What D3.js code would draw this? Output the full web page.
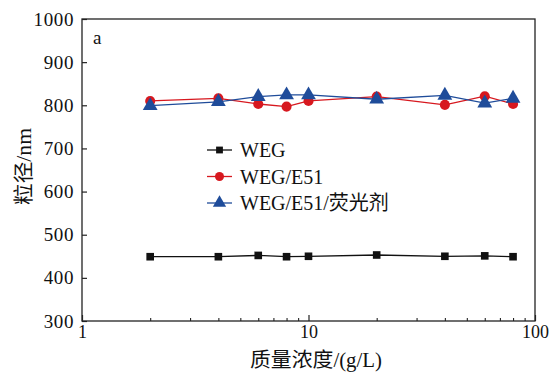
<!DOCTYPE html>
<html>
<head>
<meta charset="utf-8">
<script src="https://cdn.jsdelivr.net/npm/d3@7/dist/d3.min.js"></script>
<style>
  html, body { margin: 0; padding: 0; background: #fff; }
  svg text { font-family: "Liberation Serif", "Times New Roman", "Noto Sans CJK SC", serif; fill: #111; }
</style>
</head>
<body>
<svg id="chart" width="555" height="374"></svg>
<script>
// Mass concentration (g/L) and particle size (nm) for each formulation
const concentrations = [2, 4, 6, 8, 10, 20, 40, 60, 80];
const wegValues      = [449, 449, 452, 449, 450, 453, 450, 451, 449];
const wegE51Values   = [810, 816, 803, 797, 810, 820, 801, 821, 803];
const wegE51FlValues = [799, 808, 820, 824, 824, 814, 823, 805, 816];
const seriesNames    = ["WEG", "WEG/E51", "WEG/E51/荧光剂"];
const yTicks         = [300, 400, 500, 600, 700, 800, 900, 1000];
const xTicks         = [1, 10, 100];

const svg = d3.select("#chart");
const margin = { left: 82, right: 20, top: 19, bottom: 53 };
const W = 555, H = 374;
const x = d3.scaleLog().domain([1, 100]).range([margin.left, W - margin.right]);
const y = d3.scaleLinear().domain([300, 1000]).range([H - margin.bottom, margin.top]);

const colors = ["#111111", "#d7181f", "#1f4c9a"];
const shapes = [d3.symbolSquare, d3.symbolCircle, d3.symbolTriangle];
const sizes = [58, 80, 95];
const series = [wegValues, wegE51Values, wegE51FlValues];

// Frame
svg.append("rect")
  .attr("x", x(1)).attr("y", y(1000))
  .attr("width", x(100) - x(1)).attr("height", y(300) - y(1000))
  .attr("fill", "none").attr("stroke", "#222").attr("stroke-width", 1.3);

// Y axis, ticks pointing inward
const yAxis = svg.append("g")
  .attr("transform", `translate(${x(1)},0)`)
  .call(d3.axisLeft(y).tickValues(yTicks).tickSize(-5).tickPadding(8).tickFormat(d3.format("d")));
yAxis.select(".domain").remove();
yAxis.selectAll("line").attr("stroke", "#222").attr("stroke-width", 1.2);
yAxis.selectAll("text").style("font-size", "19px").style("letter-spacing", "0.6px").attr("fill", "#111");

// X axis (log), inward major and minor ticks
const minorTicks = [];
for (let d = 1; d < 100; d *= 10) for (let k = 2; k <= 9; k++) minorTicks.push(d * k);
const xMinor = svg.append("g")
  .attr("transform", `translate(0,${y(300)})`)
  .call(d3.axisBottom(x).tickValues(minorTicks).tickSize(-3).tickFormat(""));
xMinor.select(".domain").remove();
xMinor.selectAll("line").attr("stroke", "#222").attr("stroke-width", 1.1);

const xAxis = svg.append("g")
  .attr("transform", `translate(0,${y(300)})`)
  .call(d3.axisBottom(x).tickValues(xTicks).tickSize(-6).tickPadding(4).tickFormat(d3.format("d")));
xAxis.select(".domain").remove();
xAxis.selectAll("line").attr("stroke", "#222").attr("stroke-width", 1.2);
xAxis.selectAll("text").style("font-size", "18px").attr("fill", "#111");

// Axis titles
svg.append("text")
  .attr("x", 250).attr("y", 367)
  .attr("textLength", 132).attr("lengthAdjust", "spacingAndGlyphs")
  .style("font-size", "20px")
  .text("质量浓度/(g/L)");
svg.append("text")
  .attr("transform", `translate(31,205) rotate(-90)`)
  .attr("textLength", 77).attr("lengthAdjust", "spacingAndGlyphs")
  .style("font-size", "20px")
  .text("粒径/nm");

// Panel label
svg.append("text").attr("x", 93).attr("y", 44).style("font-size", "19px").text("a");

// Lines and markers
const line = d3.line().x((d, i) => x(concentrations[i])).y(d => y(d));
series.forEach((vals, s) => {
  svg.append("path").datum(vals)
    .attr("d", line).attr("fill", "none")
    .attr("stroke", colors[s]).attr("stroke-width", 1.3);
});
series.forEach((vals, s) => {
  svg.append("g").selectAll("path").data(vals).join("path")
    .attr("transform", (d, i) => `translate(${x(concentrations[i])},${y(d)})`)
    .attr("d", d3.symbol().type(shapes[s]).size(sizes[s]))
    .attr("fill", colors[s]);
});

// Legend
const legend = svg.append("g");
seriesNames.forEach((name, s) => {
  const ly = 150 + s * 26.5;
  legend.append("line").attr("x1", 207).attr("x2", 232).attr("y1", ly).attr("y2", ly)
    .attr("stroke", colors[s]).attr("stroke-width", 1.3);
  legend.append("path").attr("transform", `translate(219.5,${ly})`)
    .attr("d", d3.symbol().type(shapes[s]).size(sizes[s] * 0.8))
    .attr("fill", colors[s]);
  legend.append("text").attr("x", 240).attr("y", ly + 7)
    .style("font-size", "20px").text(name);
});
</script>
</body>
</html>
